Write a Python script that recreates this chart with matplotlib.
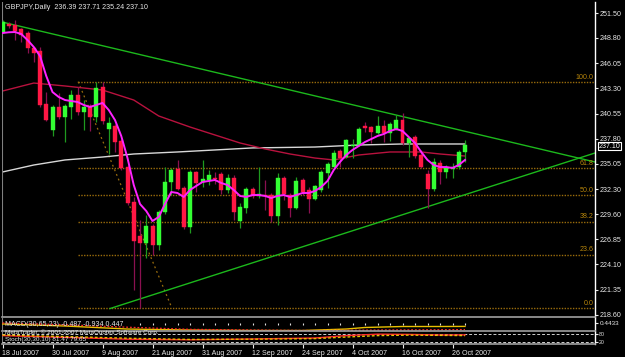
import matplotlib
matplotlib.use('Agg')
import matplotlib.pyplot as plt
import matplotlib.transforms as mtransforms
import numpy as np

plt.rcParams['font.family'] = ['Liberation Sans', 'DejaVu Sans']

# ---------------------------------------------------------------
# Data
# ---------------------------------------------------------------
title_text = 'GBPJPY,Daily  236.39 237.71 235.24 237.10'

opens = [249.43, 250.30, 250.19, 249.76, 249.32, 247.69, 247.36, 241.59, 238.75, 241.26,
         240.17, 241.26, 242.57, 240.72, 241.37, 240.17, 243.44, 238.86, 239.19, 237.56,
         234.72, 230.91, 227.21, 226.45, 228.30, 226.23, 229.82, 233.09, 234.51, 232.44,
         228.19, 234.18, 233.09, 233.31, 233.53, 233.96, 232.22, 233.53, 228.84, 230.26,
         232.33, 231.57, 231.67, 231.67, 229.39, 233.53, 231.67, 230.26, 233.31, 232.22,
         231.24, 232.22, 234.07, 234.72, 236.47, 235.81, 237.01, 237.12, 239.19, 239.08,
         238.43, 239.19, 238.43, 238.86, 239.84, 237.34, 237.99, 236.03, 233.96, 232.33,
         235.17, 234.18, 234.51, 234.73, 236.39]
highs = [250.74, 250.52, 250.74, 249.87, 249.54, 247.80, 247.80, 242.89, 241.48, 242.79,
         241.59, 243.11, 243.44, 242.02, 241.59, 244.02, 243.98, 240.17, 239.41, 237.77,
         234.94, 231.46, 228.95, 229.50, 228.52, 230.04, 234.72, 234.62, 235.49, 232.66,
         234.40, 234.29, 235.49, 234.40, 234.18, 234.18, 233.96, 233.85, 230.80, 232.55,
         232.55, 234.72, 233.31, 231.89, 234.07, 233.75, 231.89, 233.64, 233.53, 232.55,
         232.76, 234.40, 235.27, 236.58, 236.69, 237.77, 237.77, 239.08, 239.63, 239.19,
         240.28, 239.84, 239.63, 240.39, 240.61, 237.99, 238.21, 236.58, 234.40, 235.70,
         235.49, 234.94, 235.17, 236.58, 237.71]
lows = [249.32, 249.87, 248.56, 248.34, 247.14, 246.16, 241.26, 239.74, 238.10, 239.95,
        237.45, 239.95, 240.39, 238.75, 238.65, 239.63, 239.41, 236.14, 236.36, 234.40,
        230.59, 221.33, 219.36, 224.81, 225.14, 225.68, 229.60, 231.67, 232.22, 227.97,
        227.54, 232.00, 232.55, 232.76, 232.87, 231.78, 231.89, 228.95, 228.08, 229.71,
        231.35, 231.35, 230.04, 228.73, 228.41, 231.13, 229.28, 230.15, 231.67, 229.71,
        231.13, 232.00, 232.44, 234.62, 234.72, 235.70, 235.70, 237.01, 238.54, 237.34,
        238.32, 237.45, 237.56, 238.75, 237.12, 235.81, 235.70, 234.62, 230.26, 232.11,
        232.87, 233.53, 233.53, 234.51, 235.24]
closes = [250.52, 250.08, 249.54, 249.10, 247.69, 247.14, 241.48, 239.84, 241.26, 240.17,
          241.37, 242.57, 240.72, 241.26, 240.17, 243.33, 239.74, 239.52, 237.45, 234.62,
          230.80, 226.66, 226.45, 228.30, 226.23, 229.82, 233.09, 234.40, 232.33, 228.19,
          234.18, 232.98, 233.42, 233.85, 233.42, 232.22, 233.53, 229.82, 230.37, 232.33,
          231.57, 231.78, 231.57, 229.39, 233.53, 231.78, 230.26, 233.20, 232.00, 231.24,
          232.66, 234.18, 235.06, 236.25, 235.70, 237.67, 237.12, 238.86, 238.97, 238.54,
          239.19, 238.43, 239.41, 239.84, 237.34, 237.88, 235.92, 234.72, 232.33, 235.27,
          234.18, 234.62, 234.73, 236.36, 237.10]

# fast MA (magenta), one value per bar
ma_fast = [249.32, 249.40, 249.43, 249.21, 248.56, 247.80, 246.82, 244.64, 242.89, 242.35,
           242.02, 241.91, 241.81, 241.48, 241.26, 241.48, 241.70, 240.93, 239.84, 238.10,
           235.70, 232.76, 230.69, 229.93, 228.84, 229.28, 230.69, 232.00, 231.89, 231.46,
           232.22, 232.66, 233.09, 233.20, 233.31, 232.98, 232.76, 232.22, 231.57, 231.46,
           231.67, 231.67, 231.57, 231.35, 231.57, 231.67, 231.46, 231.67, 231.89, 231.89,
           232.11, 232.55, 233.20, 234.40, 235.27, 236.03, 236.58, 237.01, 237.45, 237.77,
           238.10, 238.32, 238.65, 238.86, 238.65, 237.99, 237.34, 236.36, 235.49, 234.94,
           234.72, 234.72, 234.62, 234.94, 235.49]

# medium MA (dark red) sampled at some bars
ma_mid_bars = [0, 5, 10, 16, 21, 25, 30, 34, 38, 42, 46, 50, 53, 57, 62, 67, 70, 74]
ma_mid = [243.00, 243.87, 243.55, 243.11, 242.02, 240.28, 239.08, 238.21, 237.34, 236.69,
          236.14, 235.70, 235.49, 236.03, 236.36, 236.36, 236.14, 235.92]

# slow MA (white) sampled at some bars
ma_slow_bars = [0, 5, 10, 16, 21, 28, 34, 40, 50, 57, 64, 74]
ma_slow = [234.18, 234.94, 235.49, 235.81, 236.14, 236.36, 236.58, 236.80, 236.90, 237.12,
           237.23, 237.23]

# Fibonacci retracement
fib_levels = [0.0, 23.6, 38.2, 50.0, 61.8, 100.0]
fib_high = 244.02
fib_low = 219.36
fib_bars = [12.1, 27.1]

# trendlines (bar, price) anchors
trend_upper_bars = [-0.08, 94.8]
trend_upper = [250.52, 235.27]
trend_lower_bars = [17.2, 94.8]
trend_lower = [219.30, 236.25]

price_ticks = [251.50, 248.80, 246.05, 243.30, 240.55, 237.80, 235.05,
               232.30, 229.60, 226.85, 224.10, 221.35, 218.60]

date_bars = [0, 8, 16, 24, 32, 40, 48, 56, 64, 72]
date_labels = ['18 Jul 2007', '30 Jul 2007', '9 Aug 2007', '21 Aug 2007', '31 Aug 2007',
               '12 Sep 2007', '24 Sep 2007', '4 Oct 2007', '16 Oct 2007', '26 Oct 2007']

# MACD(30,65,23) sub window
macd_bars = [0, 10, 20, 30, 40, 48, 55, 58, 64, 70, 74]
macd_main = [-0.14, -0.43, -0.86, -1.00, -1.07, -1.07, -0.86, -0.64, -0.50, -0.50, -0.487]
macd_sig_bars = [0, 10, 20, 30, 40, 50, 60, 70, 74]
macd_signal = [0.00, -0.25, -0.60, -0.90, -1.00, -1.07, -1.00, -0.96, -0.934]
macd_hist_bars = [22, 24, 26, 28, 30, 32, 34, 36, 38, 40, 42, 44, 46, 48, 50, 52, 54,
                  56, 58, 60, 62, 64, 66, 68, 70, 72, 74]
macd_hist = [-0.22, -0.25, -0.24, -0.26, -0.25, -0.27, -0.25, -0.26, -0.24, -0.26, -0.25,
             -0.27, -0.25, -0.26, -0.24, -0.25, -0.27, -0.25, -0.26, -0.24, -0.25, -0.26,
             -0.25, -0.24, -0.26, -0.25, -0.24]

# Stoch(30,30,10) sub window
stoch_bars = [0, 10, 20, 30, 40, 50, 55, 60, 65, 70, 74]
stoch_main = [70, 55, 40, 35, 42, 50, 70, 82, 80, 75, 76]
stoch_signal = [75, 62, 48, 38, 40, 45, 58, 70, 74, 72, 70]

# ---------------------------------------------------------------
W, H = 625, 357
BG = 'black'
BULL = '#33ff33'
BEAR = '#ff1744'
BULL_WICK = '#1f9a1f'
BEAR_WICK = '#8a1050'
FIB_COL = '#9a6c0c'
FIB_TXT = '#b8860b'
TEXT_COL = '#e8e8e8'
FS = 5.1


def box(x0, y0, x1, y1):
    # pixel box -> figure fraction [left, bottom, width, height]
    return [x0 / W, 1 - y1 / H, (x1 - x0) / W, (y1 - y0) / H]


fig = plt.figure(figsize=(W / 100, H / 100), dpi=100, facecolor=BG)
ax = fig.add_axes(box(2, 2, 595, 317), facecolor=BG)
ax_macd = fig.add_axes(box(2, 318, 595, 331), facecolor=BG, sharex=ax)
ax_sto = fig.add_axes(box(2, 332, 595, 344), facecolor=BG, sharex=ax)

xmin, xmax = -0.08, 94.8
ax.set_xlim(xmin, xmax)
ax.set_ylim(218.38, 252.70)

# --- candles ---
x = np.arange(len(closes))
o = np.array(opens)
c = np.array(closes)
up = c >= o
wick_cols = [BULL_WICK if u else BEAR_WICK for u in up]
body_cols = [BULL if u else BEAR for u in up]
ax.vlines(x, lows, highs, colors=wick_cols, linewidth=0.9, zorder=3)
ax.bar(x, np.maximum(np.abs(c - o), 0.06), bottom=np.minimum(o, c), width=0.64,
       color=body_cols, edgecolor=body_cols, linewidth=0.3, zorder=4)

# --- moving averages ---
ax.plot(ma_slow_bars, ma_slow, color='#d8d8d8', linewidth=1.0, zorder=2)
ax.plot(ma_mid_bars, ma_mid, color='#b8123e', linewidth=1.0, zorder=2)
ax.plot(x, ma_fast, color='#ff22ff', linewidth=1.4, zorder=5)

# --- trendlines ---
ax.plot(trend_upper_bars, trend_upper, color='#1cb81c', linewidth=1.0, zorder=2)
ax.plot(trend_lower_bars, trend_lower, color='#1cb81c', linewidth=1.0, zorder=2)

# --- fibonacci ---
fib_rng = fib_high - fib_low
for lvl in fib_levels:
    p = fib_low + fib_rng * lvl / 100.0
    ax.hlines(p, fib_bars[0], xmax, colors=FIB_COL, linewidth=1.0,
              linestyles=(0, (1, 1)), zorder=1)
    ax.text(xmax - 0.25, p + 0.12, f'{lvl:.1f}', color=FIB_TXT, fontsize=FS,
            ha='right', va='bottom', zorder=6)
ax.plot(fib_bars, [fib_high, fib_low], color=FIB_COL, linewidth=0.9,
        linestyle=(0, (1.5, 2.5)), zorder=1)

# --- axes cosmetics ---
for a in (ax, ax_macd, ax_sto):
    for s in ('top', 'left'):
        a.spines[s].set_visible(False)
    a.spines['right'].set_color('white')
    a.spines['right'].set_linewidth(1.0)
    a.spines['bottom'].set_color('#a0a0a0')
    a.spines['bottom'].set_linewidth(1.2)
    a.tick_params(axis='x', which='both', bottom=False, labelbottom=False)
    a.yaxis.tick_right()
    a.tick_params(axis='y', colors=TEXT_COL, length=2, width=0.8, pad=1.5,
                  labelsize=FS)
    a.axvline(xmin, color='#808080', linewidth=1.5)

ax.set_yticks(price_ticks)
ax.set_yticklabels([f'{t:.2f}' for t in price_ticks])

# last price marker on the axis
trans = mtransforms.blended_transform_factory(ax.transAxes, ax.transData)
ax.text(1.006, closes[-1] - 0.12, f'{closes[-1]:.2f}', transform=trans, color='white',
        fontsize=FS, ha='left', va='center', zorder=10,
        bbox=dict(facecolor='black', edgecolor='white', linewidth=0.8, pad=0.4))

fig.text(5 / W, 1 - 7.5 / H, title_text, color=TEXT_COL, fontsize=FS,
         ha='left', va='center')

# --- MACD window ---
ax_macd.set_ylim(-1.14, 0.71)
ax_macd.vlines(macd_hist_bars, 0, macd_hist, colors='#e0e0e0', linewidth=0.8)
ax_macd.plot(macd_bars, macd_main, color='#e8c000', linewidth=1.0)
ax_macd.plot(macd_sig_bars, macd_signal, color='#ff2a2a', linewidth=0.9,
             linestyle=(0, (1.5, 1.5)))
ax_macd.set_yticks([0.0])
ax_macd.set_yticklabels(['0.4433'])
ax_macd.tick_params(axis='y', labelsize=4.6)
fig.text(5 / W, 1 - 324.5 / H, 'MACD(30,65,23) -0.487 -0.934 0.447', color=TEXT_COL,
         fontsize=FS, ha='left', va='center')

# --- Stochastic window ---
ax_sto.set_ylim(0, 100)
ax_sto.axhline(80, color='#d0d0d0', linewidth=0.7, linestyle=(0, (3, 2)))
ax_sto.axhline(20, color='#d0d0d0', linewidth=0.7, linestyle=(0, (3, 2)))
ax_sto.plot(stoch_bars, stoch_main, color='#ff2a2a', linewidth=1.0)
ax_sto.plot(stoch_bars, stoch_signal, color='#e8c000', linewidth=1.0,
            linestyle=(0, (2, 1.5)))
ax_sto.set_yticks([80, 20])
ax_sto.set_yticklabels(['80', '20'])
ax_sto.tick_params(axis='y', labelsize=3.8, pad=1)
fig.text(5 / W, 1 - 332.0 / H, 'MetaTrader, \u00a9 2001-2007 MetaQuotes Software Corp.',
         color=TEXT_COL, fontsize=4.6, ha='left', va='center')
fig.text(5 / W, 1 - 339.5 / H, 'Stoch(30,30,10) 81.47 79.65', color=TEXT_COL,
         fontsize=4.6, ha='left', va='center')

# --- date axis ---
ax_sto.tick_params(axis='x', which='both', bottom=True, labelbottom=True,
                   colors=TEXT_COL, length=3, width=0.8, pad=1.0, labelsize=FS)
ax_sto.set_xticks(date_bars)
ax_sto.set_xticklabels(date_labels, ha='left')

fig.savefig('out.png', dpi=100, facecolor=BG)
